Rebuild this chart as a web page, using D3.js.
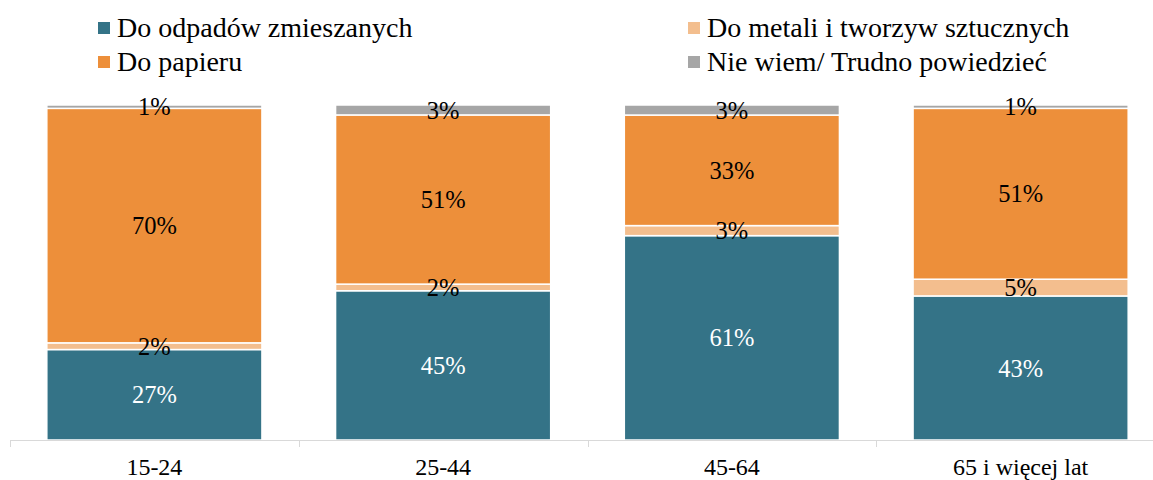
<!DOCTYPE html>
<html>
<head>
<meta charset="utf-8">
<script src="https://cdn.jsdelivr.net/npm/d3@7"></script>
<style>
  html, body { margin: 0; padding: 0; background: #fff; }
  svg { display: block; font-family: "Liberation Serif", "Times New Roman", serif; }
</style>
</head>
<body>
<div id="chart"></div>
<script>
// Data
const categories = ["15-24", "25-44", "45-64", "65 i więcej lat"];
const seriesNames = ["Do odpadów zmieszanych", "Do metali i tworzyw sztucznych", "Do papieru", "Nie wiem/ Trudno powiedzieć"];
const mixed = [27, 45, 61, 43];
const metal = [2, 2, 3, 5];
const paper = [70, 51, 33, 51];
const dontKnow = [1, 3, 3, 1];
const colors = ["#347387", "#f3be8e", "#ed8f3a", "#a6a6a6"];
const labelColors = ["#fff", "#000", "#000", "#000"];

const width = 1153;
const height = 480;

const rows = categories.map((c, i) => ({
  cat: c,
  s0: mixed[i], s1: metal[i], s2: paper[i], s3: dontKnow[i]
}));
const keys = ["s0", "s1", "s2", "s3"];

// shares are normalised per bar (rounded labels do not always add to 100)
const stack = d3.stack().keys(keys).offset(d3.stackOffsetExpand);
const stacked = stack(rows);

const x = d3.scaleBand()
  .domain(categories)
  .range([10, 1165])
  .paddingInner(0.255)
  .paddingOuter(0.1275);

const y = d3.scaleLinear().domain([0, 1]).range([440, 105]);

const svg = d3.select("#chart")
  .append("svg")
  .attr("width", width)
  .attr("height", height)
  .attr("viewBox", [0, 0, width, height]);

// bars
const gSeries = svg.append("g")
  .selectAll("g")
  .data(stacked)
  .join("g")
  .attr("fill", (d, i) => colors[i]);

gSeries.selectAll("rect")
  .data(d => d)
  .join("rect")
  .attr("x", d => x(d.data.cat))
  .attr("width", x.bandwidth())
  .attr("y", d => y(d[1]))
  .attr("height", d => y(d[0]) - y(d[1]))
  .attr("stroke", "#fff")
  .attr("stroke-width", 1.5);

// axis
const axisY = 440;
svg.append("line")
  .attr("x1", 10).attr("x2", width)
  .attr("y1", axisY + 0.5).attr("y2", axisY + 0.5)
  .attr("stroke", "#d9d9d9");

const tickPos = categories.map(c => x(c) - x.step() * x.paddingInner() / 2);
svg.append("g")
  .selectAll("line")
  .data(tickPos)
  .join("line")
  .attr("x1", d => Math.round(d) + 0.5).attr("x2", d => Math.round(d) + 0.5)
  .attr("y1", axisY).attr("y2", axisY + 7)
  .attr("stroke", "#d9d9d9");

svg.append("g")
  .selectAll("text")
  .data(categories)
  .join("text")
  .attr("x", d => x(d) + x.bandwidth() / 2)
  .attr("y", 475)
  .attr("text-anchor", "middle")
  .attr("font-size", 24)
  .attr("fill", "#000")
  .text(d => d);

// data labels
const raw = [mixed, metal, paper, dontKnow];
stacked.forEach((s, si) => {
  svg.append("g")
    .selectAll("text")
    .data(s)
    .join("text")
    .attr("x", d => x(d.data.cat) + x.bandwidth() / 2)
    .attr("y", d => (y(d[0]) + y(d[1])) / 2)
    .attr("dy", "0.35em")
    .attr("text-anchor", "middle")
    .attr("font-size", 24.5)
    .attr("fill", labelColors[si])
    .text((d, i) => raw[si][i] + "%");
});

// legend
const legendPos = [
  { x: 98, y: 37 }, { x: 688, y: 37 },
  { x: 98, y: 71 }, { x: 688, y: 71 }
];
const legend = svg.append("g")
  .selectAll("g")
  .data(seriesNames)
  .join("g")
  .attr("transform", (d, i) => `translate(${legendPos[i].x},${legendPos[i].y})`);

legend.append("rect")
  .attr("x", 0).attr("y", -15)
  .attr("width", 12).attr("height", 12)
  .attr("fill", (d, i) => colors[i]);

legend.append("text")
  .attr("x", 19)
  .attr("y", 0)
  .attr("font-size", 28)
  .attr("fill", "#000")
  .text(d => d);
</script>
</body>
</html>
